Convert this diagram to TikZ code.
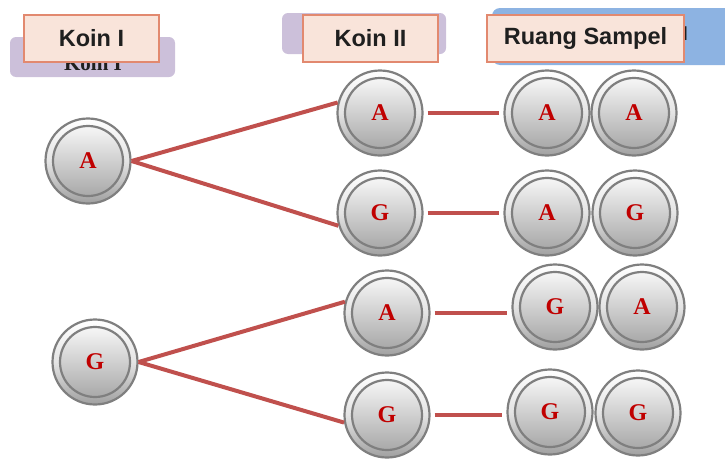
\documentclass[tikz,border=0pt]{standalone}
\usepackage{fontspec}
\setmainfont{Liberation Serif}[BoldFont={Liberation Serif Bold}]
\newfontfamily\hdrfont{Liberation Sans}[BoldFont={Liberation Sans Bold}]
\definecolor{conncol}{HTML}{C0504D}
\definecolor{backpurple}{HTML}{CCC0DA}
\definecolor{backblue}{HTML}{8DB3E2}
\definecolor{frontfill}{HTML}{F9E4DA}
\definecolor{frontdraw}{HTML}{E2896F}
\definecolor{letcol}{HTML}{C00000}
\definecolor{rimcol}{HTML}{7F7F7F}
\definecolor{coinlow}{HTML}{A0A0A0}
\definecolor{coinmid}{HTML}{E4E4E4}
\begin{document}
\begin{tikzpicture}[x=1pt,y=-1pt,
  coin/.style={circle, minimum size=85pt, inner sep=0pt, draw=rimcol, line width=2.2pt,
    top color=white, bottom color=coinlow, middle color=coinmid,
    path picture={
      \shade[top color=white, middle color=coinmid!80, bottom color=coinlow]
        (path picture bounding box.center) circle (35pt);
      \draw[rimcol, line width=2.2pt] (path picture bounding box.center) circle (35pt);
    },
    text=letcol, font=\fontsize{24}{28}\selectfont\bfseries},
  conn/.style={conncol, line width=4pt},
  hconn/.style={conn, shorten <=4pt, shorten >=4pt},
  frontbox/.style={draw=frontdraw, fill=frontfill, line width=2.2pt, minimum height=47pt,
    inner sep=0pt, font=\hdrfont\bfseries\fontsize{23.5}{27}\selectfont, text=black!88},
  backtext/.style={font=\bfseries\fontsize{21}{24}\selectfont, text=black!88}
]
\useasboundingbox (0,0) rectangle (725,458);
% back header boxes
\fill[backpurple, rounded corners=6pt] (10,37) rectangle (175,77);
\node[backtext, anchor=base] (b1t) at (93,70) {Koin I};
\fill[backpurple, rounded corners=6pt] (282,13) rectangle (446,54);
\fill[backblue, rounded corners=8pt] (492,8) rectangle (760,65);
\node[anchor=base east, inner sep=0pt, font=\hdrfont\bfseries\fontsize{19}{22}\selectfont, text=black!88] (b3t) at (688,40) {Ruang Sampel};
% front header boxes
\node[frontbox, minimum width=135pt] (h1) at (91.5,38.5) {Koin I};
\node[frontbox, minimum width=135pt] (h2) at (370.5,38.5) {Koin II};
\node[frontbox, minimum width=197pt] (h3) at (585.5,38.5) {Ruang Sampel};
% coins
\node[coin] (k1a) at (88,161) {A};
\node[coin] (k1g) at (95,362) {G};
\node[coin] (k2a) at (380,113) {A};
\node[coin] (k2g) at (380,213) {G};
\node[coin] (k2a2) at (387,313) {A};
\node[coin] (k2g2) at (387,415) {G};
\node[coin] (r1a) at (547,113) {A};
\node[coin] (r1b) at (634,113) {A};
\node[coin] (r2a) at (547,213) {A};
\node[coin] (r2b) at (635,213) {G};
\node[coin] (r3a) at (555,307) {G};
\node[coin] (r3b) at (642,307) {A};
\node[coin] (r4a) at (550,412) {G};
\node[coin] (r4b) at (638,413) {G};
% connectors
\draw[conn] (k1a.east) -- (k2a.166);
\draw[conn] (k1a.east) -- (k2g.197);
\draw[conn] (k1g.east) -- (k2a2.165);
\draw[conn] (k1g.east) -- (k2g2.190);
\draw[hconn] (k2a.east) -- (r1a.west);
\draw[hconn] (k2g.east) -- (r2a.west);
\draw[hconn] (k2a2.east) -- (r3a.west |- k2a2.east);
\draw[hconn] (k2g2.east) -- (r4a.west |- k2g2.east);
\end{tikzpicture}
\end{document}
